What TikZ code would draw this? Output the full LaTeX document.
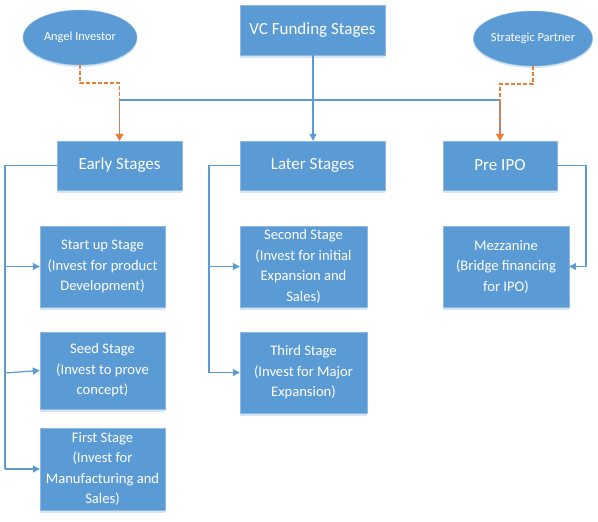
\documentclass[tikz,border=0pt]{standalone}
\usepackage{fontspec}
\setmainfont{Carlito}
\usetikzlibrary{shapes.geometric}
\usetikzlibrary{shadows}
\usetikzlibrary{arrows.meta}

\definecolor{boxblue}{HTML}{5B9BD5}
\definecolor{edgeblue}{HTML}{8DB8E2}
\definecolor{shadeblue}{HTML}{D6E5F4}
\definecolor{lineblue}{HTML}{5B9BD5}
\definecolor{dashorange}{HTML}{ED7D31}

\tikzset{
  stagebox/.style={rectangle, draw=edgeblue, fill=boxblue, text=white, align=center, inner sep=0pt,
    drop shadow={shadow xshift=0pt, shadow yshift=-2.5pt, fill=shadeblue, opacity=1}},
  topbox/.style={stagebox, font=\fontsize{17}{19}\selectfont},
  subbox/.style={stagebox, font=\fontsize{14.6}{20.5}\selectfont},
  partner/.style={ellipse, draw=edgeblue, fill=boxblue, text=white, inner sep=0pt,
    minimum width=114pt, minimum height=55pt, font=\fontsize{12.4}{14}\selectfont,
    drop shadow={shadow xshift=0pt, shadow yshift=-2pt, fill=shadeblue, opacity=1}},
  link/.style={draw=lineblue, line width=1.2pt, -{Triangle[length=7pt,width=7pt]}},
  feed/.style={draw=dashorange, line width=1.5pt, dash pattern=on 4pt off 2pt, -{Triangle[length=7pt,width=8pt]}}
}

\begin{document}
\begin{tikzpicture}[x=1pt,y=-1pt]
        \useasboundingbox (0,0) rectangle (598,522);

        % Top row
        \node[topbox, minimum width=145pt, minimum height=50pt] (VC) at (312.5,30) {VC Funding Stages};
        \node[partner] (AI) at (80,37.5) {Angel Investor};
        \node[partner] (SP) at (533,38.5) {Strategic Partner};

        % Stage row
        \node[topbox, minimum width=125pt, minimum height=49pt] (ES) at (119.5,165.5) {Early Stages};
        \node[topbox, minimum width=145pt, minimum height=49pt] (LS) at (312.5,165.5) {Later Stages};
        \node[topbox, minimum width=114pt, minimum height=49pt] (PI) at (500,165.5) {Pre IPO};

        % Early stage boxes
        \node[subbox, minimum width=125pt, minimum height=81pt] (SU) at (102.5,266.5) {Start up Stage\\(Invest for product\\Development)};
        \node[subbox, minimum width=125pt, minimum height=77pt] (SD) at (102.5,370.5) {Seed Stage\\(Invest to prove\\concept)};
        \node[subbox, minimum width=125pt, minimum height=82pt] (FS) at (102.5,469) {First Stage\\(Invest for\\Manufacturing and\\Sales)};

        % Later stage boxes
        \node[subbox, minimum width=127pt, minimum height=81pt] (SS) at (303.5,266.5) {Second Stage\\(Invest for initial\\Expansion and\\Sales)};
        \node[subbox, minimum width=127pt, minimum height=81pt] (TS) at (303.5,372.5) {Third Stage\\(Invest for Major\\Expansion)};

        % Pre IPO box
        \node[subbox, minimum width=126pt, minimum height=81pt] (MZ) at (506,266.5) {Mezzanine\\(Bridge financing\\for IPO)};

        % Branch points
        \coordinate (B0) at (313,100);
        \coordinate (BE) at (5,165.5);
        \coordinate (BL) at (209,165.5);
        \coordinate (BP) at (586,165.5);

        % Draw funding tree
        \draw[link] (VC.south -| B0) -- (LS.north -| B0);
        \draw[link] (B0) -| (ES.north);
        \draw[link] (B0) -| (PI.north);

        % Draw partner feeds
        \draw[feed] (AI.south) -- ++(0,18) -| (ES.north);
        \draw[feed] (SP.south) -- ++(0,18) -| (PI.north);

        % Draw early stage bus
        \draw[draw=lineblue, line width=1.2pt] (ES.west) -- (BE) -- (BE |- FS.west);
        \draw[link] (BE |- SU.west) -- (SU.west);
        \draw[link] (5,373) -- (SD.west);
        \draw[link] (BE |- FS.west) -- (FS.west);

        % Draw later stage bus
        \draw[draw=lineblue, line width=1.2pt] (LS.west) -- (BL) -- (BL |- TS.west);
        \draw[link] (BL |- SS.west) -- (SS.west);
        \draw[link] (BL |- TS.west) -- (TS.west);

        % Draw pre IPO link
        \draw[link] (PI.east) -- (BP) |- (MZ.east);
\end{tikzpicture}
\end{document}
